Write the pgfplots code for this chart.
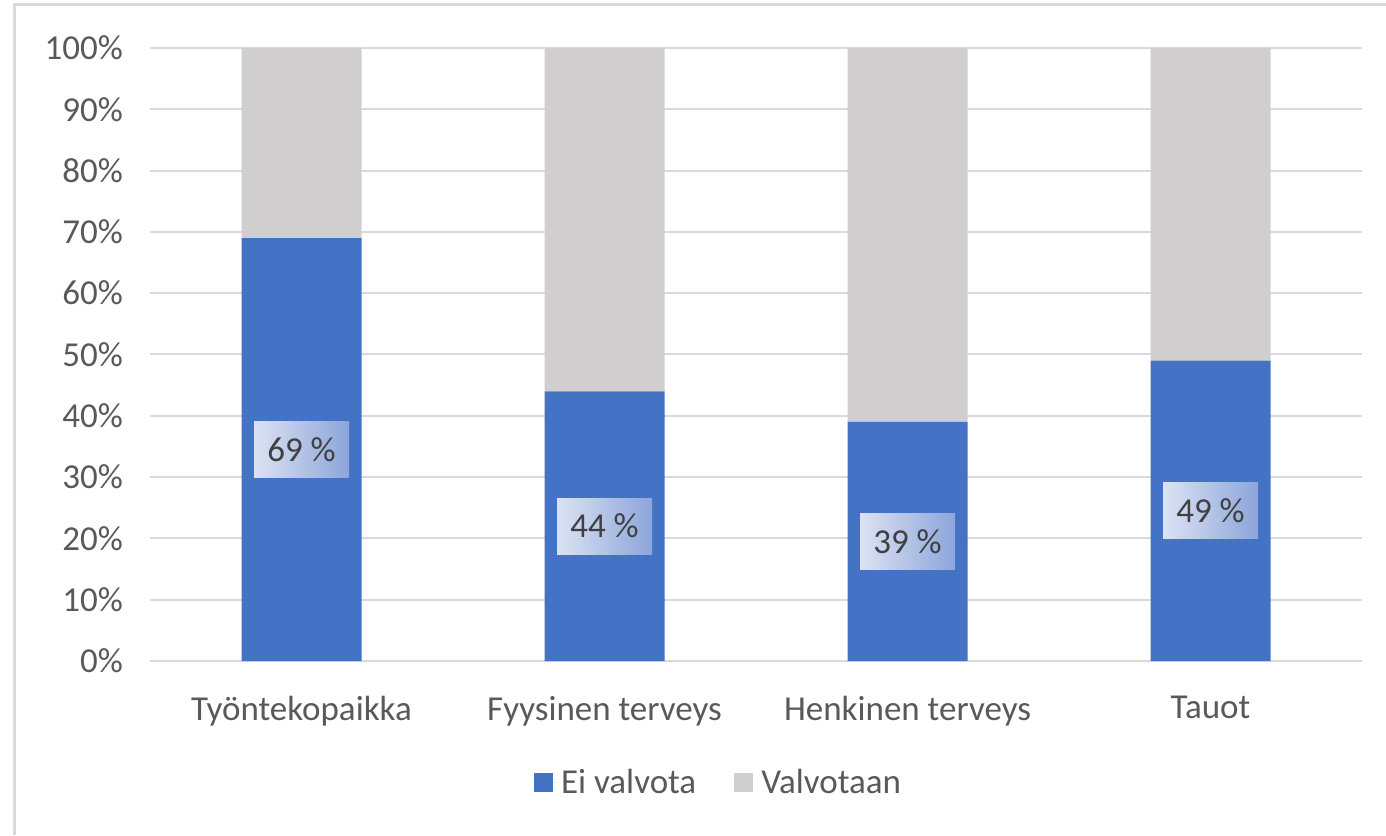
\documentclass[border=0pt]{standalone}
\usepackage{pgfplots}
\pgfplotsset{compat=1.18}
\usepackage{fontspec}
\setmainfont{Carlito}
\definecolor{barblue}{HTML}{4472C4}
\definecolor{bargray}{HTML}{D0CECE}
\definecolor{gridgray}{HTML}{D9D9D9}
\definecolor{txtgray}{HTML}{595959}
\definecolor{lblgray}{HTML}{404040}
\definecolor{lblL}{HTML}{DCE2F3}
\definecolor{lblR}{HTML}{8CA5DA}
\pgfplotsset{sqlegend/.style={legend image code/.code={\fill[##1,draw=none] (0pt,-4.5pt) rectangle (9.5pt,5pt);\path (0pt,0pt) -- (11.5pt,0pt);}}}
\begin{document}
\begin{tikzpicture}
\useasboundingbox (0,0) rectangle (693pt,417.5pt);
\begin{axis}[
  at={(75pt,87pt)}, anchor=south west,
  scale only axis, width=606pt, height=306.5pt,
  ybar stacked, bar width=60pt,
  xmin=-0.5, xmax=3.5, ymin=0, ymax=100,
  xtick=data,
  xticklabels={Työntekopaikka,Fyysinen terveys,Henkinen terveys,Tauot},
  ytick={0,10,...,100},
  yticklabels={0\%,10\%,20\%,30\%,40\%,50\%,60\%,70\%,80\%,90\%,100\%},
  ymajorgrids, grid style={draw=gridgray, line width=1pt},
  axis line style={draw=none},
  major tick length=0pt,
  /pgf/number format/assume math mode=true,
  tick label style={font=\fontsize{17.5pt}{21pt}\selectfont, text=txtgray},
  yticklabel style={anchor=east, xshift=-10pt},
  xticklabel style={yshift=-14pt},
  legend style={at={(0.47,-0.199)}, anchor=center, draw=none, fill=none,
    legend columns=2, font=\fontsize{17.5pt}{21pt}\selectfont, text=txtgray,
    /tikz/every even column/.append style={column sep=17pt}},
]
\addplot+[fill=barblue, draw=none, sqlegend,
  nodes near coords={\pgfmathprintnumber{\pgfplotspointmeta}~\%},
  every node near coord/.append style={anchor=center,
    left color=lblL, right color=lblR, text=lblgray,
    minimum width=47.5pt, minimum height=28pt, inner sep=0pt,
    font=\fontsize{17.5pt}{21pt}\selectfont}
] coordinates {(0,69) (1,44) (2,39) (3,49)};
\addplot+[fill=bargray, draw=none, sqlegend] coordinates {(0,31) (1,56) (2,61) (3,51)};
\legend{Ei valvota,Valvotaan}
\end{axis}
\draw[gridgray, line width=1.5pt] (7pt,0pt) -- (7pt,415pt) -- (693pt,415pt);
\end{tikzpicture}
\end{document}
